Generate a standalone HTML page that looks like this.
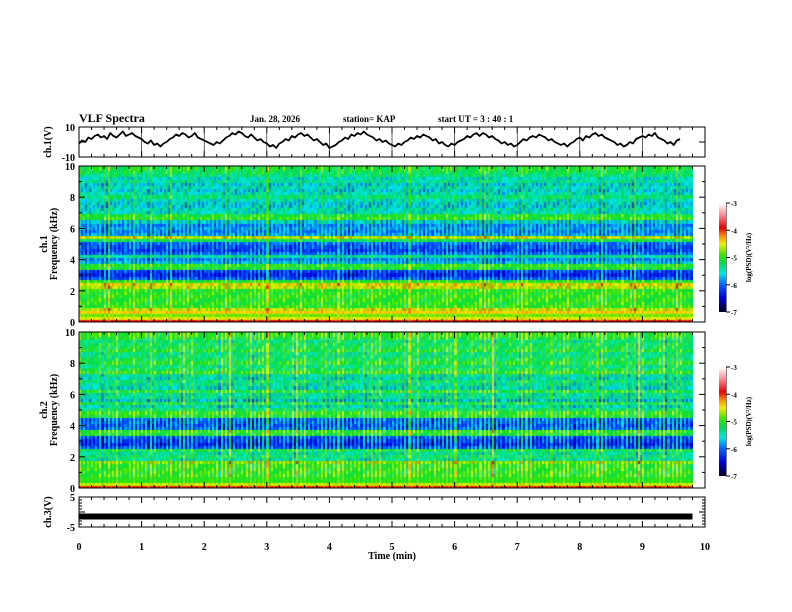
<!DOCTYPE html>
<html><head><meta charset="utf-8"><title>VLF Spectra</title>
<style>
body{margin:0;background:#fff;width:792px;height:612px;overflow:hidden;position:relative;font-family:"Liberation Serif",serif;}
svg{position:absolute;left:0;top:0}
canvas{position:absolute}
</style></head>
<body>
<canvas id="spec1" width="614" height="156" style="left:79px;top:166px"></canvas>
<canvas id="spec2" width="614" height="156" style="left:79px;top:332px"></canvas>
<canvas id="cb1" width="7" height="109" style="left:719px;top:203px"></canvas>
<canvas id="cb2" width="7" height="109" style="left:719px;top:367px"></canvas>
<svg id="svg" width="792" height="612"></svg>
<script>
// ---- data ----
const timeTicks=[0,1,2,3,4,5,6,7,8,9,10];
const freqTicks=[0,2,4,6,8,10];
const cbTicks=[-3,-4,-5,-6,-7];
// ch.1 waveform (V), one sample per 0.05 min
const ch1Values=[-1,1,0,3,2,4,5,3,4,2,6,4,3,5,7,4,5,6,4,3,2,0,-1,1,-2,-1,-3,-1,0,2,3,5,4,6,5,3,4,6,3,2,1,0,-1,-2,0,-1,1,3,4,6,5,7,6,4,3,5,3,1,2,0,-1,-3,-2,-4,-1,0,2,1,4,3,5,6,4,5,3,1,2,0,-2,-1,-4,-3,-2,0,1,3,2,5,4,6,5,7,5,4,3,1,2,0,1,-1,-2,-3,-1,-2,0,1,3,2,4,3,5,4,3,1,2,-1,0,-2,-3,-1,-2,0,1,2,4,3,5,6,4,6,5,3,4,2,1,-1,0,-2,-1,-3,-2,0,2,1,3,4,3,5,4,3,1,2,0,-1,-2,-1,-3,-1,0,2,3,1,4,3,5,6,4,5,3,2,1,0,-2,-1,-3,-2,0,-1,2,3,4,3,5,4,6,3,2,1,-1,0,-2,1,2];
// ch.3 level (V)
const ch3Value=[-1.5];
// spectral base levels log10(PSD) per 0.2 kHz bin from 0 to 10 kHz
const spec1Levels=[-3.9,-4.5,-4.8,-4.4,-4.6,-5.0,-5.0,-5.0,-5.0,-5.0,-5.0,-4.6,-4.5,-5.0,-6.1,-6.3,-6.2,-5.1,-5.0,-5.7,-5.9,-5.4,-6.0,-6.2,-6.1,-6.0,-5.2,-4.6,-5.8,-5.9,-5.8,-5.9,-5.6,-5.0,-5.1,-5.5,-5.5,-5.6,-5.6,-5.5,-5.3,-5.5,-5.6,-5.5,-5.6,-5.4,-5.5,-5.3,-5.2,-5.1];
const spec2Levels=[-4.0,-4.6,-5.0,-5.0,-5.0,-5.0,-5.0,-5.0,-4.8,-5.4,-5.3,-5.4,-5.2,-6.1,-6.3,-6.2,-6.1,-5.1,-5.0,-6.0,-6.1,-6.0,-6.0,-5.1,-5.0,-5.3,-5.5,-5.2,-5.6,-5.4,-5.4,-5.1,-5.5,-5.4,-5.3,-5.5,-5.4,-5.0,-5.2,-5.3,-5.1,-5.2,-5.3,-5.3,-5.1,-5.2,-5.2,-5.3,-5.1,-5.0];
// broadband streak strength per 0.1 min column
const spec1Streaks=[0.3,0.8,0.2,0.5,0.9,0.3,0.2,0.6,1.0,0.4,0.3,0.7,0.2,0.5,1.2,0.3,0.4,0.6,0.3,0.8,0.2,0.5,0.3,0.7,0.4,0.9,0.3,0.6,0.5,0.4,0.8,0.3,0.6,0.4,0.3,0.7,0.2,0.5,0.9,0.4,0.3,0.6,0.5,1.1,0.3,0.4,0.6,0.3,0.5,0.8,0.3,0.4,0.7,0.3,0.5,0.9,0.4,0.3,0.6,0.5,0.4,0.7,0.3,0.5,0.8,0.6,0.4,1.0,0.3,0.5,0.7,0.4,0.3,0.6,0.8,0.4,0.5,0.3,0.7,0.5,0.3,0.6,0.4,0.8,0.5,0.3,0.6,0.4,0.9,0.3,0.5,0.7,0.4,0.6,0.3,0.8,0.5,0.4];
const spec2Streaks=[0.5,0.7,0.4,0.9,0.6,0.5,0.8,0.4,1.0,0.6,0.5,0.8,0.6,0.7,1.1,0.5,1.0,0.6,0.8,0.5,0.7,0.6,0.9,0.7,1.2,0.6,0.9,1.3,0.7,0.8,1.0,0.6,0.8,0.7,1.1,0.6,0.9,0.7,0.8,1.0,0.6,0.8,0.7,0.9,0.6,1.0,0.8,0.7,0.9,0.6,0.8,0.7,1.0,0.6,0.9,0.7,1.1,0.6,0.8,0.7,0.9,0.6,1.0,0.7,0.8,0.6,1.3,0.7,0.8,0.6,0.9,0.7,0.8,0.6,0.7,0.9,0.6,0.8,0.7,1.0,0.6,0.8,0.7,0.9,0.6,0.8,0.7,1.0,0.6,1.2,0.7,0.8,1.0,1.3,0.6,0.8,0.7,0.6];

// ---- layout ----
const X0=79,X1=705;
const xs=t=>X0+(X1-X0)*t/10;
const P={ch1:[127,157],s1:[166,322],s2:[332,488],ch3:[497,527]};
const svg=document.getElementById('svg');
const NS='http://www.w3.org/2000/svg';
function mk(tag,attrs,parent){const e=document.createElementNS(NS,tag);for(const k in attrs)e.setAttribute(k,attrs[k]);(parent||svg).appendChild(e);return e;}
function txt(x,y,s,opt){const e=mk('text',Object.assign({x:x,y:y,'font-family':'Liberation Serif, serif','font-weight':'bold','font-size':10,fill:'#000'},opt||{}));e.textContent=s;return e;}

const cmStops=[[-7,[0,0,40]],[-6.5,[0,0,220]],[-6,[0,100,255]],[-5.6,[0,230,230]],[-5.2,[0,220,80]],[-4.9,[60,230,0]],[-4.5,[240,240,0]],[-4.2,[255,140,0]],[-3.9,[230,0,0]],[-3.5,[250,120,130]],[-3,[255,255,255]]];
function cmap(v){if(v<=-7)return cmStops[0][1];if(v>=-3)return cmStops[cmStops.length-1][1];
for(let i=0;i<cmStops.length-1;i++){const a=cmStops[i],b=cmStops[i+1];if(v>=a[0]&&v<=b[0]){const f=(v-a[0])/(b[0]-a[0]);return a[1].map((c,j)=>Math.round(c+(b[1][j]-c)*f));}}}

function drawSpec(id,levels,streaks){
  const c=document.getElementById(id),g=c.getContext('2d');
  const W=c.width,H=c.height,nr=levels.length,nc=streaks.length;
  const sub=[1.0,-0.45,0.4,-0.3,0.7,-0.55];
  const tex=[0,-0.18,0.1,-0.08,0.15,-0.2,0.05];
  const cw=W/nc/3,rh=H/nr;
  for(let ci=0;ci<nc;ci++)for(let s=0;s<3;s++){
    const st=streaks[ci]*sub[(ci+s)%6];
    for(let r=0;r<nr;r++){
      const base=levels[r];
      const w=(r<4?0.25:(base<-5.5?0.8:0.6));
      const v=base+st*w+tex[(r*3+ci*2+s*5)%7]*(r<4?0.3:1);
      const col=cmap(v);
      g.fillStyle='rgb('+col+')';
      g.fillRect(Math.floor((ci*3+s)*cw),Math.floor(H-(r+1)*rh),Math.ceil(cw)+1,Math.ceil(rh)+1);
    }
  }
}
drawSpec('spec1',spec1Levels,spec1Streaks);
drawSpec('spec2',spec2Levels,spec2Streaks);
function drawCb(id){const c=document.getElementById(id),g=c.getContext('2d');for(let y=0;y<c.height;y++){const v=-3-4*y/(c.height-1);g.fillStyle='rgb('+cmap(v)+')';g.fillRect(0,y,c.width,1);}}
drawCb('cb1');drawCb('cb2');

function frame(name,y0,y1){
  const r=mk('rect',{x:X0,y:y0,width:X1-X0,height:y1-y0,fill:'none',stroke:'#000','stroke-width':1});
  
  for(let t=0;t<=10.001;t+=0.2){
    const major=Math.abs(t-Math.round(t))<0.01,L=major?6:3,x=xs(t);
    mk('line',{x1:x,x2:x,y1:y0,y2:y0+L,stroke:'#000'});
    mk('line',{x1:x,x2:x,y1:y1,y2:y1-L,stroke:'#000'});
  }
}
frame('ch1-panel',...P.ch1);frame('ch1-spec-panel',...P.s1);frame('ch2-spec-panel',...P.s2);frame('ch3-panel',...P.ch3);
timeTicks.forEach(t=>mk('line',{x1:xs(t),x2:xs(t),y1:P.ch1[0],y2:P.ch1[1],stroke:'#000','stroke-width':0.6}));

function yticks(y0,y1,vmin,vmax,step,minor,labels){
  const ys=v=>y1-(y1-y0)*(v-vmin)/(vmax-vmin);
  for(let v=vmin;v<=vmax+1e-6;v+=minor){const isM=Math.abs(v/step-Math.round(v/step))<1e-6;const L=isM?6:3;
    mk('line',{x1:X0,x2:X0+L,y1:ys(v),y2:ys(v),stroke:'#000'});mk('line',{x1:X1,x2:X1-L,y1:ys(v),y2:ys(v),stroke:'#000'});}
  labels.forEach(v=>{const e=txt(X0-4,ys(v)+4,String(v),{'text-anchor':'end'});});
}
yticks(...P.ch1,-10,10,10,10,[-10,10]);
yticks(...P.s1,0,10,2,1,freqTicks);
yticks(...P.s2,0,10,2,1,freqTicks);
yticks(...P.ch3,-5,5,5,1,[-5,5]);

timeTicks.forEach(t=>{const e=txt(xs(t),550,String(t),{'text-anchor':'middle'});});
const xt=txt(392,559,'Time  (min)',{'text-anchor':'middle'});


(function(){const ys=v=>P.ch1[1]-(P.ch1[1]-P.ch1[0])*(v+10)/20;
let d='';ch1Values.forEach((v,i)=>{d+=(i?'L':'M')+xs(i*0.05).toFixed(1)+','+ys(v).toFixed(1);});
const p=mk('path',{d:d,fill:'none',stroke:'#000','stroke-width':1.8,'stroke-linejoin':'round'});
})();
(function(){const ys=v=>P.ch3[1]-(P.ch3[1]-P.ch3[0])*(v+5)/10;
const l=mk('line',{x1:X0,x2:xs(9.8),y1:ys(ch3Value[0]),y2:ys(ch3Value[0]),stroke:'#000','stroke-width':6});
})();

[[203,312],[367,476]].forEach(([a,b],k)=>{
  mk('rect',{x:726,y:a,width:0.5,height:b-a,fill:'#000'});
  cbTicks.forEach((v,i)=>{const y=a+(b-a)*i/4;mk('line',{x1:726,x2:730,y1:y,y2:y,stroke:'#000'});
    const e=txt(731,y+3,String(v),{'font-size':7});});
  const cy=(a+b)/2;
  const e=txt(0,0,'log(PSD)(V²/Hz)',{'font-size':7,'text-anchor':'middle',transform:'translate(751,'+cy+') rotate(-90)'});
  
});

function ytitle(x,cy,s,name){const e=txt(0,0,s,{'text-anchor':'middle',transform:'translate('+x+','+cy+') rotate(-90)'});}
ytitle(51,142,'ch.1(V)','ch1-y-title');
ytitle(47,244,'ch.1','spec1-y-title-channel');ytitle(57,244,'Frequency  (kHz)','spec1-y-title');
ytitle(47,410,'ch.2','spec2-y-title-channel');ytitle(57,410,'Frequency  (kHz)','spec2-y-title');
ytitle(51,512,'ch.3(V)','ch3-y-title');

[[79,'VLF  Spectra',12,'chart-title'],[250,'Jan.  28,  2026',9,'date-label'],[343,'station= KAP',9,'station-label'],[438,'start  UT  =   3  : 40 : 1',9,'start-time-label']].forEach(([x,s,fs,n])=>{
  const e=txt(x,122,s,{'font-size':fs});});
</script>
</body></html>
